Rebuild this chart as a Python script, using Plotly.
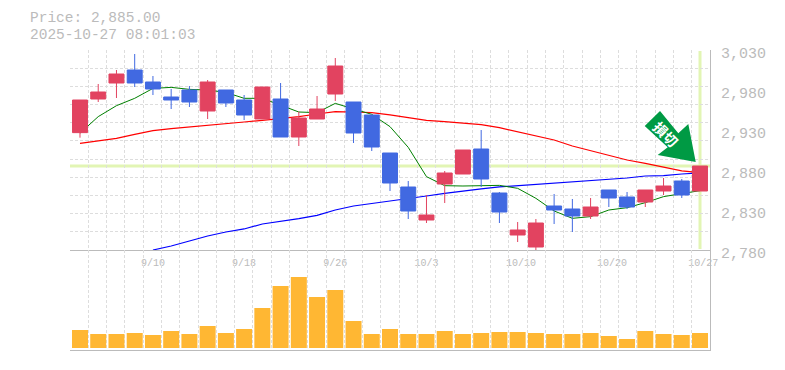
import plotly.graph_objects as go

# ---- data ----
index = list(range(35))
opens = [2926.7,2968.75,2988.75,3005,2990,2971.25,2980,2953.75,2980,2967.5,2943.75,2968.75,2921.25,2943.75,2975,2965,2948.75,2901.25,2858.75,2817.5,2862.5,2875,2906.25,2851.25,2798.75,2783.75,2835,2831.25,2822.5,2855,2846.25,2840,2853.75,2866.25,2853.75]
highs = [2967.5,2987.5,3005,3025,2997.5,2981.25,2985,2992.5,2980,2973.75,2983.75,2988.75,2953,2972.5,3020,2965,2948.75,2901.25,2866.25,2848.75,2878.75,2905,2930,2852.5,2815,2818.75,2850,2843.75,2845,2855,2852.5,2855,2870,2868.75,2885]
lows = [2920.4,2965,2970,2983.75,2973.75,2956.25,2958.75,2943.75,2958.75,2942.5,2943.75,2921.25,2910,2943.75,2966.25,2913.75,2903.75,2853.75,2818.75,2813.75,2838.75,2875,2858.75,2813.75,2790,2778.75,2812.5,2802.5,2818.75,2833.75,2831.25,2833.75,2848.75,2845,2853.75]
closes = [2967.5,2977.5,3000,2988.75,2981.25,2967.5,2965,2990,2963.75,2948.75,2983.75,2921.25,2945,2956.25,3010,2926.25,2908.75,2863.75,2828.75,2823.75,2876.25,2905,2868.75,2827.5,2805,2813.75,2830,2822.5,2833.75,2845,2833.75,2855,2860,2848.75,2885]
ma_green = [2926,2946.7,2960.4,2969.6,2982,2983.3,2980.8,2980,2977,2969.6,2969.6,2961.3,2952.5,2951.7,2963.3,2956.3,2949.6,2934.2,2908.3,2871.7,2860.4,2860,2860.4,2860.8,2857.1,2844.6,2828.8,2819.6,2821.7,2830,2832.9,2839.2,2846.7,2850,2854.2]
ma_red = [2913.3,2916.7,2919.6,2924.6,2929.2,2931.7,2933.8,2936.7,2938.3,2940,2942,2944.2,2946.7,2950,2952.9,2952.5,2951.7,2948.8,2945,2942.1,2940.4,2938.8,2936.7,2932.9,2927.9,2922.5,2917.5,2910,2904.2,2898.8,2892.5,2888.3,2883.3,2878.8,2876.7]
ma_blue = [None,None,None,None,2780,2785,2791.3,2797.5,2802.5,2806.3,2812.5,2815.4,2819.2,2823.3,2830,2835,2837.9,2841.3,2844.2,2847.5,2850.8,2853.8,2856.3,2858.8,2860.4,2862.1,2863.8,2865.8,2867.5,2868.3,2870,2872.5,2872.9,2875,2876.3]
volume = [18,14,14,15,13,17,14,22,15,19,40,62,71,51,58,27,14,19,14,14,17,14,15,16,16,15,14,14,15,12,9,17,14,13,15]
date_positions = [4,9,14,19,24.18,29.18,34.18]
date_labels = ["9/10","9/18","9/26","10/3","10/10","10/20","10/27"]
price_ticks = [2780,2830,2880,2930,2980,3030]
last_price = 2885
last_index = 34
header_lines = ["Price: 2,885.00","2025-10-27 08:01:03"]
arrow_label = "損切"

W, H = 785, 370
L, R, T, B = 70, 710, 50, 350
XR = [-0.548, 34.548]
YR = [2780, 3030]
VR = [-2, 98]
GRAY = "#bbbbbb"
GRID = "#dddddd"
RED = "#e24360"
BLUE = "#4169e1"
MONO = "Liberation Mono, monospace"

def px(x): return (x - L) / (R - L)
def py(y): return (B - y) / (B - T)

xgrid = [XR[0] + (XR[1]-XR[0]) * i / 35 for i in range(36)]
ygrid = [YR[0] + (YR[1]-YR[0]) * i / 11 for i in range(12)]

fig = go.Figure()
for vals, col, w in [(ma_blue, "#0000ff", 1.2), (ma_red, "#ff0000", 1.2), (ma_green, "#008000", 1)]:
    fig.add_trace(go.Scatter(x=index, y=vals, mode="lines", line=dict(color=col, width=w),
                             xaxis="x", yaxis="y", cliponaxis=False, showlegend=False))
fig.add_trace(go.Bar(x=index, y=volume, marker=dict(color="#ffb733", line_width=0),
                     xaxis="x2", yaxis="y2", showlegend=False))
fig.add_trace(go.Candlestick(x=index, open=opens, high=highs, low=lows, close=closes,
                             increasing=dict(line=dict(color=RED, width=1), fillcolor=RED),
                             decreasing=dict(line=dict(color=BLUE, width=1), fillcolor=BLUE),
                             whiskerwidth=0, xaxis="x3", yaxis="y3", showlegend=False))

grid = dict(showgrid=True, gridcolor=GRID, griddash="3px,2px", gridwidth=1, zeroline=False, ticks="", showticklabels=False)
arrow = [(660,111),(644.7,126),(667.7,147.3),(657.7,155),(695.7,162),(688.3,124),(678.3,133.3)]
arrow_path = "M " + " L ".join(f"{px(a):.4f},{py(b):.4f}" for a, b in arrow) + " Z"

fig.update_layout(
    width=W, height=H, margin=dict(l=L, r=W-R, t=T, b=H-B, autoexpand=False),
    paper_bgcolor="white", plot_bgcolor="white", bargap=0.123, boxgap=0.18, boxgroupgap=0,
    showlegend=False, hovermode=False,
    xaxis=dict(range=XR, tickmode="array", tickvals=xgrid, showline=True, linecolor=GRAY, linewidth=1, anchor="y", **grid),
    yaxis=dict(range=YR, domain=[1/3, 1], tickmode="array", tickvals=ygrid, anchor="x", **grid),
    xaxis2=dict(range=XR, tickmode="array", tickvals=xgrid, showline=True, linecolor=GRAY, linewidth=1, anchor="y2", **grid),
    yaxis2=dict(range=VR, domain=[0, 1/3], side="right", showline=True, linecolor=GRAY, linewidth=1,
                showgrid=False, zeroline=False, showticklabels=False, ticks="", anchor="x2"),
    xaxis3=dict(range=XR, overlaying="x", anchor="y", side="bottom", tickmode="array", tickvals=date_positions,
                ticktext=date_labels, showgrid=False, zeroline=False, ticks="", ticklabelstandoff=5,
                tickfont=dict(family=MONO, size=10, color=GRAY), rangeslider=dict(visible=False)),
    yaxis3=dict(range=YR, domain=[1/3, 1], overlaying="y", side="right", anchor="x3", tickmode="array",
                tickvals=price_ticks, tickformat=",d", showgrid=False, zeroline=False, ticks="",
                showline=True, linecolor=GRAY, linewidth=1, ticklabelstandoff=7, ticklabelshift=3,
                tickfont=dict(family=MONO, size=15, color=GRAY)),
    shapes=[
        dict(type="line", xref="x", yref="y", x0=XR[0], x1=XR[1], y0=last_price, y1=last_price,
             line=dict(color="#e2f5b4", width=3), layer="below"),
        dict(type="line", xref="x", yref="paper", x0=last_index, x1=last_index, y0=py(249), y1=py(51),
             line=dict(color="#e2f5b4", width=3), layer="below"),
        dict(type="path", xref="paper", yref="paper", path=arrow_path, fillcolor="#009a44", line_width=0, layer="above"),
    ],
    annotations=[
        dict(text=header_lines[0], xref="paper", yref="paper", x=px(28), y=py(18), xanchor="left", yanchor="middle",
             showarrow=False, font=dict(family=MONO, size=14.5, color=GRAY)),
        dict(text=header_lines[1], xref="paper", yref="paper", x=px(28), y=py(35), xanchor="left", yanchor="middle",
             showarrow=False, font=dict(family=MONO, size=14.5, color=GRAY)),
        dict(text=arrow_label, xref="paper", yref="paper", x=px(666), y=py(134), xanchor="center", yanchor="middle",
             showarrow=False, textangle=45, font=dict(family="Noto Sans CJK JP", size=14, color="white", weight="bold")),
    ],
)
fig.write_html("out.html", config=dict(displayModeBar=False), post_script="document.body.style.margin='0';")
